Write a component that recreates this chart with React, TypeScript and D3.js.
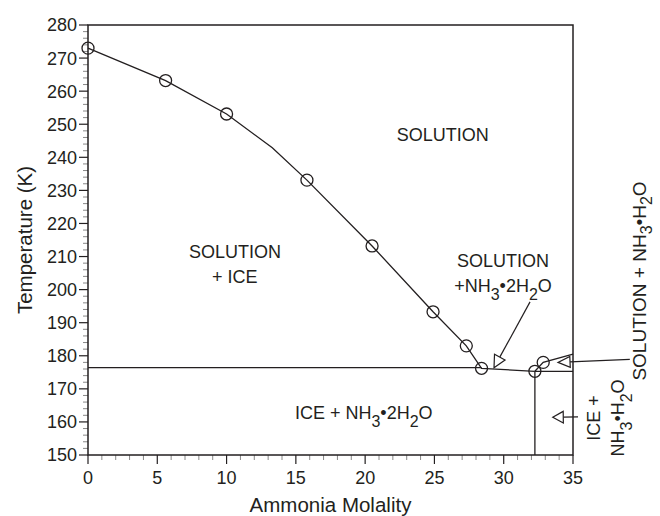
import * as d3 from "d3";

// measured freezing points (ammonia molality, K)
const ptMolality = [0, 5.6, 10, 15.8, 20.5, 24.9, 27.3, 28.4, 32.25, 32.85];
const ptTemp = [273, 263.2, 253.1, 233.1, 213.2, 193.3, 183, 176.2, 175.3, 178];

// liquidus curve vertices
const iceCurveM = [0, 5.6, 10, 13.3, 15.8, 20.5, 24.9, 27.3, 28.4, 32.25];
const iceCurveT = [273, 263.2, 253.1, 242.9, 233.1, 213.2, 193.3, 183, 176.2, 175.3];
const hydrateCurveM = [32.25, 32.85, 35];
const hydrateCurveT = [175.3, 178, 180.5];

const eutectic1 = 176.4;
const eutectic2 = 175.3;
const hydrateComp = 32.25;

const xTicks = [0, 5, 10, 15, 20, 25, 30, 35];
const yTicks = [150, 160, 170, 180, 190, 200, 210, 220, 230, 240, 250, 260, 270, 280];

const W = 660;
const H = 516;
const ink = "#231f20";
const font = "'Liberation Sans', Arial, Helvetica, sans-serif";

function Formula({ parts, sub = 16, shift = 8 }: { parts: [string, boolean][]; sub?: number; shift?: number }) {
  return (
    <>
      {parts.map(([s, isSub], i) => {
        const prevSub = i > 0 && parts[i - 1][1];
        const dy = isSub ? shift : prevSub ? -shift : 0;
        return (
          <tspan key={i} dy={dy} fontSize={isSub ? sub : undefined}>
            {s}
          </tspan>
        );
      })}
    </>
  );
}

function head(tip: [number, number], tail: [number, number], len: number, hw: number) {
  const dx = tail[0] - tip[0];
  const dy = tail[1] - tip[1];
  const d = Math.hypot(dx, dy);
  const ux = dx / d;
  const uy = dy / d;
  const bx = tip[0] + ux * len;
  const by = tip[1] + uy * len;
  const pts = [
    [tip[0], tip[1]],
    [bx - uy * hw, by + ux * hw],
    [bx + uy * hw, by - ux * hw],
  ];
  return { pts: pts.map((p) => p.join(",")).join(" "), base: [bx, by] as [number, number] };
}

export default function App() {
  const x = d3.scaleLinear().domain([0, 35]).range([88, 573]);
  const y = d3.scaleLinear().domain([150, 280]).range([455, 25]);
  const line = d3
    .line<[number, number]>()
    .x((d) => x(d[0]))
    .y((d) => y(d[1]));

  const iceCurve = iceCurveM.map((m, i) => [m, iceCurveT[i]] as [number, number]);
  const hydCurve = hydrateCurveM.map((m, i) => [m, hydrateCurveT[i]] as [number, number]);

  const xMinor = d3.range(0, 36, 1).filter((v) => v % 5 !== 0);
  const yMinor = d3.range(150, 281, 2).filter((v) => v % 10 !== 0);

  const arrows: { tip: [number, number]; tail: [number, number]; len: number; hw: number }[] = [
    { tip: [x(29.3), y(176.4)], tail: [x(31.9), y(196.3)], len: 12, hw: 6 },
    { tip: [x(33.92), y(178)], tail: [x(39.1), y(178.9)], len: 12, hw: 5.5 },
    { tip: [x(33.54), y(161.4)], tail: [x(35.36), y(161.5)], len: 10.5, hw: 5.8 },
  ];

  return (
    <svg width={W} height={H} style={{ position: "absolute", left: 0, top: 0 }} fontFamily={font}>
      <rect width={W} height={H} fill="#fff" />

      {/* minor ticks */}
      {xMinor.map((v) => (
        <line key={"xm" + v} x1={x(v)} x2={x(v)} y1={y(150)} y2={y(150) + 5} stroke="#888" strokeWidth={1} />
      ))}
      {yMinor.map((v) => (
        <line key={"ym" + v} x1={x(0) - 5} x2={x(0)} y1={y(v)} y2={y(v)} stroke="#888" strokeWidth={1} />
      ))}

      {/* major ticks and labels */}
      {xTicks.map((v) => (
        <g key={"x" + v}>
          <line x1={x(v)} x2={x(v)} y1={y(150)} y2={y(150) + 9} stroke={ink} strokeWidth={1.2} />
          <text x={x(v)} y={484} textAnchor="middle" fontSize={18} fill={ink}>
            {v}
          </text>
        </g>
      ))}
      {yTicks.map((v) => (
        <g key={"y" + v}>
          <line x1={x(0) - 9} x2={x(0)} y1={y(v)} y2={y(v)} stroke={ink} strokeWidth={1.2} />
          <text x={x(0) - 11} y={y(v)} dy="0.36em" textAnchor="end" fontSize={18} fill={ink}>
            {v}
          </text>
        </g>
      ))}

      {/* frame */}
      <rect x={x(0)} y={y(280)} width={x(35) - x(0)} height={y(150) - y(280)} fill="none" stroke={ink} strokeWidth={1.5} />

      {/* phase boundaries */}
      <g fill="none" stroke={ink} strokeWidth={1.3}>
        <path d={line(iceCurve) ?? ""} />
        <path d={line(hydCurve) ?? ""} />
        <line x1={x(0)} x2={x(28.4)} y1={y(eutectic1)} y2={y(eutectic1)} />
        <line x1={x(hydrateComp)} x2={x(35)} y1={y(eutectic2)} y2={y(eutectic2)} />
        <line x1={x(hydrateComp)} x2={x(hydrateComp)} y1={y(eutectic2)} y2={y(150)} />
      </g>

      {ptMolality.map((m, i) => (
        <circle key={"p" + i} cx={x(m)} cy={y(ptTemp[i])} r={6} fill="none" stroke={ink} strokeWidth={1.3} />
      ))}

      {/* annotation arrows */}
      {arrows.map((a, i) => {
        const h = head(a.tip, a.tail, a.len, a.hw);
        return (
          <g key={"a" + i} stroke={ink} strokeWidth={1.2}>
            <line x1={h.base[0]} y1={h.base[1]} x2={a.tail[0]} y2={a.tail[1]} />
            <polygon points={h.pts} fill="#fff" />
          </g>
        );
      })}

      {/* region labels */}
      <g fontSize={18} fill={ink} textAnchor="middle">
        <text x={x(25.6)} y={y(244.8)}>SOLUTION</text>
        <text x={x(10.6)} y={y(209.6)}>SOLUTION</text>
        <text x={x(10.6)} y={y(202)}>+ ICE</text>
        <text x={x(29.95)} y={y(206.8)}>SOLUTION</text>
        <text x={x(29.95)} y={y(199.4)}>
          <Formula parts={[["+NH", false], ["3", true], ["•2H", false], ["2", true], ["O", false]]} />
        </text>
        <text x={x(19.9)} y={y(160.8)}>
          <Formula parts={[["ICE + NH", false], ["3", true], ["•2H", false], ["2", true], ["O", false]]} />
        </text>
      </g>

      <text transform={`translate(646,${y(172.5)}) rotate(-90)`} fontSize={19} fill={ink} textAnchor="start">
        <Formula parts={[["SOLUTION + NH", false], ["3", true], ["•H", false], ["2", true], ["O", false]]} sub={16} shift={6} />
      </text>
      <text transform={`translate(600,${y(161.2)}) rotate(-90)`} fontSize={18} fill={ink} textAnchor="middle">
        ICE +
      </text>
      <text transform={`translate(624,${y(161.2)}) rotate(-90)`} fontSize={18} fill={ink} textAnchor="middle">
        <Formula parts={[["NH", false], ["3", true], ["•H", false], ["2", true], ["O", false]]} />
      </text>

      {/* axis titles */}
      <text x={(x(0) + x(35)) / 2} y={512} textAnchor="middle" fontSize={20.5} fill={ink}>
        Ammonia Molality
      </text>
      <text transform={`translate(32,${(y(150) + y(280)) / 2}) rotate(-90)`} textAnchor="middle" fontSize={20.5} fill={ink}>
        Temperature (K)
      </text>
    </svg>
  );
}
